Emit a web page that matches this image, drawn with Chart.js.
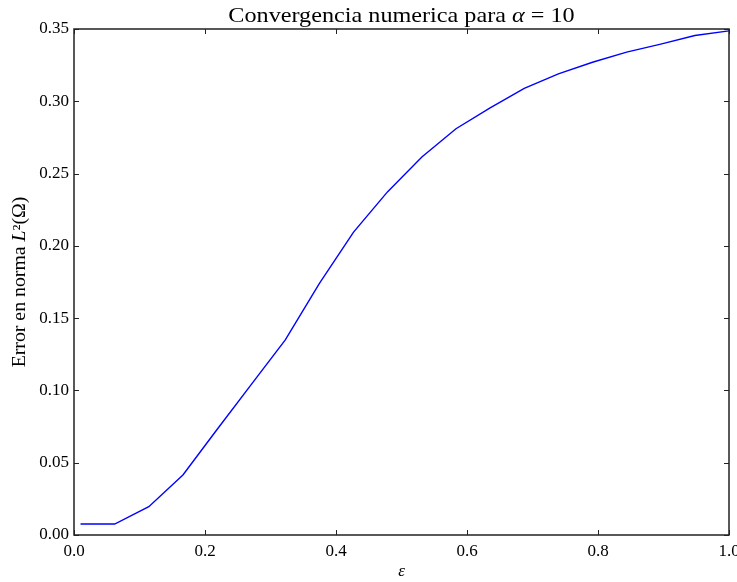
<!DOCTYPE html>
<html>
<head>
<meta charset="utf-8">
<script src="https://cdn.jsdelivr.net/npm/chart.js@4.4.0/dist/chart.umd.min.js"></script>
<style>
html,body{margin:0;padding:0;background:#fff;}
#c{display:block;}
</style>
</head>
<body>
<canvas id="c" width="737" height="582"></canvas>
<script>
const epsValues = [0.01, 0.0621, 0.1142, 0.1663, 0.2184, 0.2705, 0.3226, 0.3747, 0.4268, 0.4789, 0.5311, 0.5832, 0.6353, 0.6874, 0.7395, 0.7916, 0.8437, 0.8958, 0.9479, 1.0];
const errorValues = [0.0076, 0.0076, 0.0196, 0.0415, 0.073, 0.104, 0.135, 0.174, 0.2095, 0.2375, 0.2615, 0.281, 0.2955, 0.309, 0.319, 0.327, 0.334, 0.3395, 0.3455, 0.3487];
const xTickLabels = ['0.0', '0.2', '0.4', '0.6', '0.8', '1.0'];
const yTickLabels = ['0.00', '0.05', '0.10', '0.15', '0.20', '0.25', '0.30', '0.35'];
const titleParts = [['Convergencia numerica para ', false], ['α', true], [' = 10', false]];
const yLabelParts = [['Error en norma ', false], ['L', true], ['²(Ω)', false]];
const xLabelParts = [['ε', true]];

const FONT = '"Liberation Serif", "Times New Roman", serif';

function drawParts(ctx, parts, size, cx, cy, sx) {
  let total = 0;
  const widths = parts.map(p => {
    ctx.font = (p[1] ? 'italic ' : '') + size + 'px ' + FONT;
    const w = ctx.measureText(p[0]).width;
    total += w;
    return w;
  });
  ctx.save();
  ctx.translate(cx, cy);
  ctx.scale(sx || 1, 1);
  let x = -total / 2;
  ctx.textBaseline = 'middle';
  ctx.textAlign = 'left';
  parts.forEach((p, i) => {
    ctx.font = (p[1] ? 'italic ' : '') + size + 'px ' + FONT;
    ctx.fillText(p[0], x, 0);
    x += widths[i];
  });
  ctx.restore();
}

const framePlugin = {
  id: 'frame',
  afterDraw(chart) {
    const ctx = chart.ctx;
    const a = chart.chartArea;
    const xs = chart.scales.x, ys = chart.scales.y;
    ctx.save();
    ctx.strokeStyle = '#222';
    ctx.lineWidth = 1.5;
    ctx.strokeRect(a.left, a.top, a.right - a.left, a.bottom - a.top);
    ctx.lineWidth = 1;
    const tl = 5;
    ctx.beginPath();
    xs.ticks.forEach((t, i) => {
      const px = Math.round(xs.getPixelForTick(i)) + 0.5;
      ctx.moveTo(px, a.bottom); ctx.lineTo(px, a.bottom - tl);
      ctx.moveTo(px, a.top); ctx.lineTo(px, a.top + tl);
    });
    ys.ticks.forEach((t, i) => {
      const py = Math.round(ys.getPixelForTick(i)) + 0.5;
      ctx.moveTo(a.left, py); ctx.lineTo(a.left + tl, py);
      ctx.moveTo(a.right, py); ctx.lineTo(a.right - tl, py);
    });
    ctx.stroke();
    ctx.fillStyle = '#000';
    const cx = (a.left + a.right) / 2;
    drawParts(ctx, titleParts, 22, cx, 16, 1.1);
    drawParts(ctx, xLabelParts, 17, cx, 572);
    ctx.save();
    ctx.translate(20, (a.top + a.bottom) / 2);
    ctx.rotate(-Math.PI / 2);
    drawParts(ctx, yLabelParts, 18, 0, 0, 1.1);
    ctx.restore();
    ctx.restore();
  }
};

new Chart(document.getElementById('c'), {
  type: 'line',
  data: {
    datasets: [{
      data: epsValues.map((x, i) => ({ x: x, y: errorValues[i] })),
      borderColor: '#0000ff',
      borderWidth: 1.4,
      pointRadius: 0,
      fill: false,
      tension: 0
    }]
  },
  options: {
    responsive: false,
    animation: false,
    layout: { padding: { top: 29, right: 8, left: 0, bottom: 0 } },
    plugins: { legend: { display: false }, title: { display: false }, tooltip: { enabled: false } },
    scales: {
      x: {
        type: 'linear', min: 0, max: 1,
        grid: { display: false, drawTicks: false },
        border: { display: false },
        ticks: {
          stepSize: 0.2, padding: 6, maxRotation: 0, autoSkip: false,
          color: '#000', font: { family: FONT, size: 17 },
          callback: (v, i) => xTickLabels[i]
        },
        afterFit(s) { s.height = 47; s.paddingLeft = 0; s.paddingRight = 0; }
      },
      y: {
        type: 'linear', min: 0, max: 0.35,
        grid: { display: false, drawTicks: false },
        border: { display: false },
        ticks: {
          stepSize: 0.05, padding: 5, autoSkip: false,
          color: '#000', font: { family: FONT, size: 17 },
          callback: (v, i) => yTickLabels[i]
        },
        afterFit(s) { s.width = 74; s.paddingTop = 0; s.paddingBottom = 0; }
      }
    }
  },
  plugins: [framePlugin]
});
</script>
</body>
</html>
